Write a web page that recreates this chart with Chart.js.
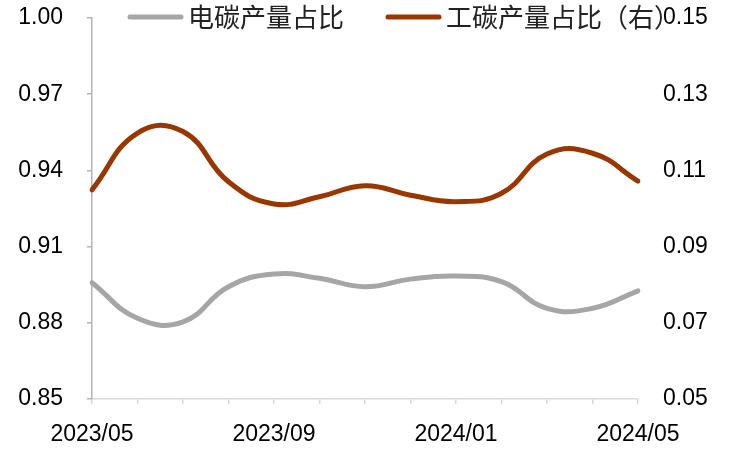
<!DOCTYPE html>
<html>
<head>
<meta charset="utf-8">
<script src="https://cdn.jsdelivr.net/npm/chart.js@4.4.0/dist/chart.umd.min.js"></script>
<style>
  html, body { margin: 0; padding: 0; background: #fff; }
  #wrap { width: 729px; height: 450px; }
</style>
</head>
<body>
<div id="wrap"><canvas id="chart" width="729" height="450"></canvas></div>
<script>
// monthly categories
const months = ['2023/05', '2023/06', '2023/07', '2023/08', '2023/09', '2023/10', '2023/11',
                '2023/12', '2024/01', '2024/02', '2024/03', '2024/04', '2024/05'];

// 电碳产量占比 (left axis)
const elecShare = [0.8958, 0.8818, 0.8804, 0.8942, 0.8992, 0.8975, 0.8942,
                   0.8972, 0.8984, 0.8962, 0.8857, 0.8857, 0.8926];

// 工碳产量占比 (right axis)
const indShare = [0.1049, 0.1198, 0.1202, 0.1070, 0.1012, 0.1031, 0.1060,
                  0.1035, 0.1018, 0.1040, 0.1143, 0.1145, 0.1072];

const leftTicks = [0.85, 0.88, 0.91, 0.94, 0.97, 1.00];
const rightTicks = [0.05, 0.07, 0.09, 0.11, 0.13, 0.15];
const shownLabels = ['2023/05', '2023/09', '2024/01', '2024/05'];

const tickFont = { family: '"Liberation Sans", Arial, sans-serif', size: 23 };

// legend drawn over the top of the plot, like the original
const topLegend = {
    id: 'topLegend',
    afterDraw(chart) {
        const ctx = chart.ctx;
        const y = 17;
        let x = 128;
        ctx.save();
        ctx.font = '26px "Noto Sans CJK SC", sans-serif';
        ctx.textBaseline = 'middle';
        chart.data.datasets.forEach((ds, i) => {
            ctx.strokeStyle = ds.borderColor;
            ctx.lineWidth = 5;
            ctx.lineCap = 'round';
            ctx.beginPath();
            ctx.moveTo(x + 2, y);
            ctx.lineTo(x + 53, y);
            ctx.stroke();
            x += 60;
            ctx.fillStyle = '#222';
            ctx.fillText(ds.label, x, y);
            x += ctx.measureText(ds.label).width + 42;
        });
        ctx.restore();
    }
};

// fixed axis widths, and no extra room reserved above the plot for tick labels
function fitY(width) {
    return scale => {
        scale.width = width;
        scale.paddingTop = 0;
        scale.paddingBottom = 0;
    };
}

new Chart(document.getElementById('chart'), {
    type: 'line',
    data: {
        labels: months,
        datasets: [
            {
                label: '电碳产量占比',
                data: elecShare,
                yAxisID: 'yL',
                borderColor: '#A6A6A6',
                borderWidth: 5,
                pointRadius: 0,
                tension: 0.45,
                borderCapStyle: 'round'
            },
            {
                label: '工碳产量占比（右）',
                data: indShare,
                yAxisID: 'yR',
                borderColor: '#9A3600',
                borderWidth: 5,
                pointRadius: 0,
                tension: 0.45,
                borderCapStyle: 'round'
            }
        ]
    },
    options: {
        responsive: false,
        animation: false,
        layout: { padding: { top: 18, left: 0, right: 0, bottom: 0 } },
        plugins: {
            legend: { display: false },
            tooltip: { enabled: false }
        },
        scales: {
            x: {
                offset: false,
                afterFit(scale) { scale.height = 51; },
                grid: {
                    drawOnChartArea: false,
                    tickLength: 5,
                    color: '#D9D9D9',
                    lineWidth: 1.5
                },
                border: { color: '#D9D9D9', width: 1.5 },
                ticks: {
                    autoSkip: false,
                    maxRotation: 0,
                    padding: 17,
                    color: '#000',
                    font: tickFont,
                    callback(value) {
                        const lab = months[value];
                        return shownLabels.includes(lab) ? lab : '';
                    }
                }
            },
            yL: {
                position: 'left',
                min: 0.85,
                max: 1.00,
                afterFit: fitY(92),
                afterBuildTicks(scale) { scale.ticks = leftTicks.map(v => ({ value: v })); },
                grid: {
                    drawOnChartArea: false,
                    tickLength: 5,
                    color: '#B4B4B4',
                    lineWidth: 1.5
                },
                border: { color: '#B4B4B4', width: 1.5 },
                ticks: {
                    padding: 24,
                    color: '#000',
                    font: tickFont,
                    callback: v => v.toFixed(2)
                }
            },
            yR: {
                position: 'right',
                min: 0.05,
                max: 0.15,
                afterFit: fitY(91),
                afterBuildTicks(scale) { scale.ticks = rightTicks.map(v => ({ value: v })); },
                grid: { display: false, drawOnChartArea: false, drawTicks: false, tickLength: 0 },
                border: { display: false },
                ticks: {
                    padding: 25,
                    color: '#000',
                    font: tickFont,
                    callback: v => v.toFixed(2)
                }
            }
        }
    },
    plugins: [topLegend]
});
</script>
</body>
</html>
